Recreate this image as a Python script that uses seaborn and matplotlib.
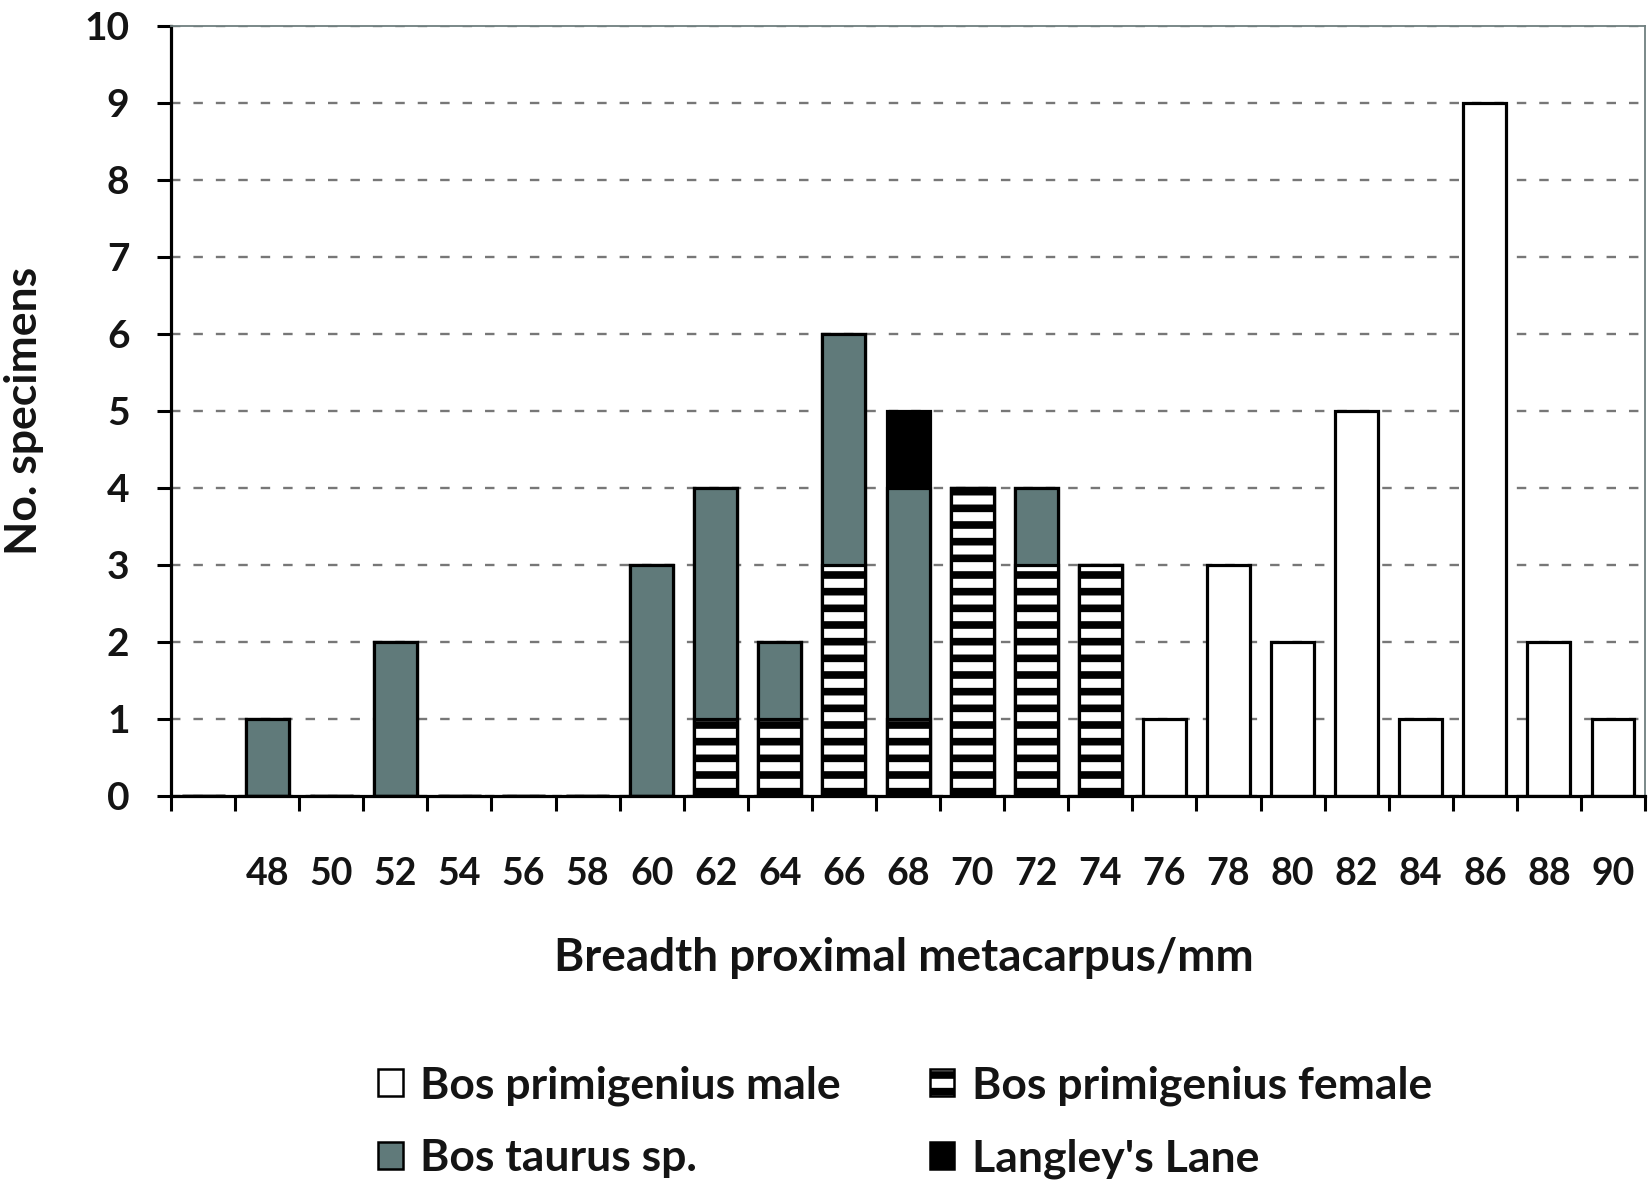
import numpy as np
import seaborn as sns
import matplotlib.pyplot as plt
from matplotlib.patches import Patch

# x categories (first slot is empty in the original chart)
slots = ['', '48', '50', '52', '54', '56', '58', '60', '62', '64', '66', '68',
         '70', '72', '74', '76', '78', '80', '82', '84', '86', '88', '90']
male = [0, 0, 0, 0, 0, 0, 0, 0, 0, 0, 0, 0, 0, 0, 0, 1, 3, 2, 5, 1, 9, 2, 1]
female = [0, 0, 0, 0, 0, 0, 0, 0, 1, 1, 3, 1, 4, 3, 3, 0, 0, 0, 0, 0, 0, 0, 0]
taurus = [0, 1, 0, 2, 0, 0, 0, 3, 3, 1, 3, 3, 0, 1, 0, 0, 0, 0, 0, 0, 0, 0, 0]
langley = [0, 0, 0, 0, 0, 0, 0, 0, 0, 0, 0, 1, 0, 0, 0, 0, 0, 0, 0, 0, 0, 0, 0]
legend_labels = ['Bos primigenius male', 'Bos taurus sp.',
                 'Bos primigenius female', "Langley's Lane"]

sns.set_theme(style='white')
plt.rcParams['font.family'] = ['Lato', 'DejaVu Sans']
plt.rcParams['font.weight'] = 'bold'
plt.rcParams['hatch.linewidth'] = 5.5
plt.rcParams['hatch.color'] = 'black'

GREY = '#607a7a'
TXT = '#141414'

fig = plt.figure(figsize=(16.48, 11.91), dpi=100)
ax = fig.add_axes([0.1038, 0.3317, 0.8944, 0.6465])
ax.set_axisbelow(True)

# stacked bars drawn as overlays: tallest stack first
lvl_female = np.array(female)
lvl_taurus = lvl_female + np.array(taurus)
lvl_total = lvl_taurus + np.array(langley)

bar_kw = dict(order=slots, width=0.67, saturation=1, edgecolor='black',
              linewidth=2.3, ax=ax)
sns.barplot(x=slots, y=lvl_total, color='black', **bar_kw)
sns.barplot(x=slots, y=lvl_taurus, color=GREY, **bar_kw)
sns.barplot(x=slots, y=lvl_female, color='white', hatch='-', **bar_kw)
sns.barplot(x=slots, y=male, color='white', **bar_kw)

ax.set_ylim(0, 10)
ax.set_xlim(-0.5, len(slots) - 0.5)
ax.set_yticks(range(0, 11))
ax.yaxis.grid(True, color='#777777', linewidth=1.7, linestyle=(0, (4, 5.5)))
ax.xaxis.grid(False)

# labels at bar centres, tick marks at slot boundaries
ax.set_xticks(range(len(slots)))
ax.set_xticklabels(slots)
ax.set_xticks(np.arange(-0.5, len(slots)), minor=True)
ax.tick_params(axis='x', which='major', length=0, pad=44, labelsize=27,
               labelcolor=TXT)
ax.tick_params(axis='x', which='minor', bottom=True, length=11, width=2.2,
               color='black', direction='out')
ax.tick_params(axis='y', left=True, length=10, width=2.2, color='black',
               direction='out', pad=20, labelsize=28, labelcolor=TXT)

for side in ['left', 'bottom']:
    ax.spines[side].set_color('black')
    ax.spines[side].set_linewidth(2.3)
for side in ['top', 'right']:
    ax.spines[side].set_color('#6f7f7f')
    ax.spines[side].set_linewidth(1.3)

ax.set_xlabel('Breadth proximal metacarpus/mm', fontsize=33,
              fontweight='bold', color=TXT)
ax.xaxis.set_label_coords(0.497, -0.183)
ax.set_ylabel('No. specimens', fontsize=32, fontweight='bold', color=TXT)
ax.yaxis.set_label_coords(-0.086, 0.5)

handles = [Patch(facecolor='white', edgecolor='black', linewidth=1.8),
           Patch(facecolor=GREY, edgecolor='black', linewidth=1.8),
           Patch(facecolor='white', edgecolor='black', linewidth=1.8, hatch='-'),
           Patch(facecolor='black', edgecolor='black', linewidth=1.8)]
fig.legend(handles, legend_labels, ncol=2, loc='upper left',
           bbox_to_anchor=(0.216, 0.124), frameon=False, fontsize=32,
           handlelength=0.55, handleheight=0.55, handletextpad=0.4,
           columnspacing=2.0, labelspacing=0.72, borderpad=0,
           labelcolor=TXT)

fig.savefig('out.png', dpi=100)
